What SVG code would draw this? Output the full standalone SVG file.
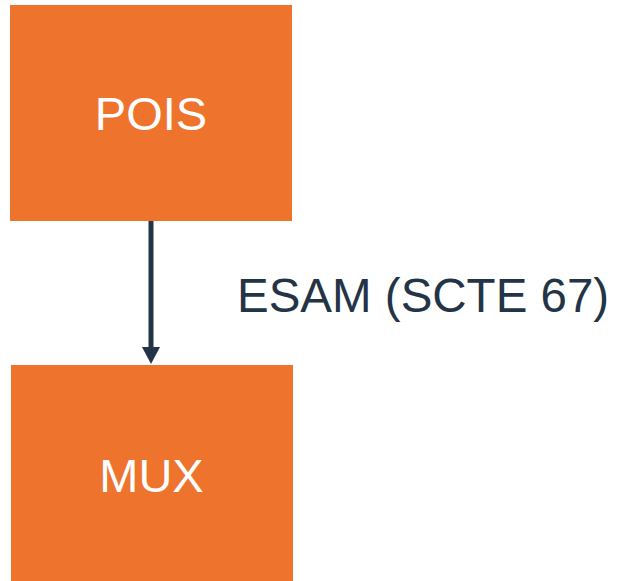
<svg xmlns="http://www.w3.org/2000/svg" width="618" height="581" viewBox="0 0 618 581">
  <defs>
    <style>
      .node rect { fill: #EE742D; }
      .node text { fill: #FFFFFF; font-family: "Liberation Sans", Arial, sans-serif; font-size: 47px; text-anchor: middle; }
      .edge { stroke: #243447; stroke-width: 5; fill: none; }
      .edge-label { fill: #243447; font-family: "Liberation Sans", Arial, sans-serif; font-size: 47.5px; }
    </style>
    <!-- arrowhead: base sits on the line end, tip 17px further on -->
    <marker id="arrow" viewBox="0 0 17 18" refX="1" refY="9" markerWidth="17" markerHeight="18" markerUnits="userSpaceOnUse" orient="auto">
      <path d="M0,0 L17,9 L0,18 Z" fill="#243447"/>
    </marker>
  </defs>
  <rect width="618" height="581" fill="#FFFFFF"/>

  <g id="connectors">
    <line class="edge" x1="151" y1="220" x2="151" y2="348" marker-end="url(#arrow)"/>
    <text class="edge-label" x="237" y="312">ESAM (SCTE 67)</text>
  </g>

  <g id="pois" class="node">
    <rect x="10" y="5" width="282" height="216"/>
    <text x="151" y="130">POIS</text>
  </g>

  <g id="mux" class="node">
    <rect x="11" y="365" width="282" height="216"/>
    <text x="151.5" y="492">MUX</text>
  </g>
</svg>
